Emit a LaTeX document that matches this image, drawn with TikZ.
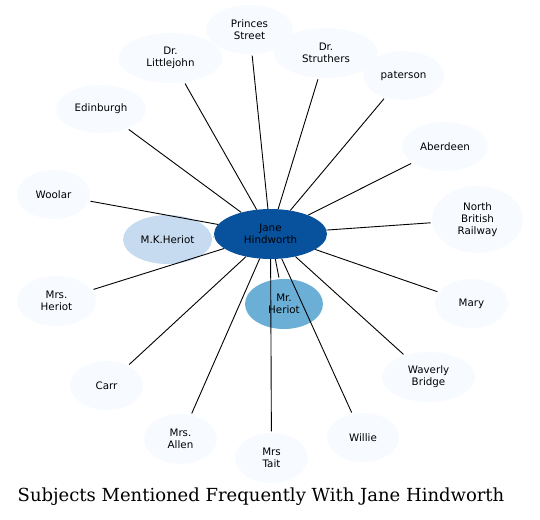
\documentclass[tikz,border=0pt]{standalone}
\usepackage{fontspec}
\setmainfont{DejaVu Sans}
\newfontfamily\titlefont{DejaVu Serif}
\usetikzlibrary{shapes.geometric}
\definecolor{bOne}{HTML}{F7FBFF}
\definecolor{bThree}{HTML}{C6DBEF}
\definecolor{bFive}{HTML}{6BAED6}
\definecolor{bEight}{HTML}{08519C}
\tikzset{
  ell/.style n args={2}{ellipse, inner sep=0pt, draw=none, fill=bOne,
    minimum width=#1pt, minimum height=#2pt, align=center,
    font=\fontsize{10.3pt}{12pt}\selectfont, text=black},
  conn/.style={draw=black, line width=0.9pt, shorten >=1.5pt},
}
\begin{document}
\begin{tikzpicture}[x=1pt,y=-1pt]
\useasboundingbox (0,0) rectangle (540,519);
\node[ell={113}{50}, fill=bEight] (jane) at (270.5,234) {Jane\\Hindworth};
\node[ell={89}{49}, fill=bThree] (mk) at (167.5,239.5) {M.K.Heriot};
\node[ell={78}{50}, fill=bFive] (mr) at (284,304) {Mr.\\Heriot};
\node[ell={87}{49}] (princes) at (249.5,29.5) {Princes\\Street};
\node[ell={104}{50}] (little) at (170.5,58) {Dr.\\Littlejohn};
\node[ell={104}{50}] (struth) at (326,53) {Dr.\\Struthers};
\node[ell={81}{49}] (pat) at (403.5,75.5) {paterson};
\node[ell={90}{48}] (edin) at (101,109) {Edinburgh};
\node[ell={86}{49}] (aber) at (445,146.5) {Aberdeen};
\node[ell={73}{49}] (woolar) at (53.5,194.5) {Woolar};
\node[ell={91}{67}] (nbr) at (477.5,219.5) {North\\British\\Railway};
\node[ell={79}{50}] (mrsh) at (56.5,301) {Mrs.\\Heriot};
\node[ell={73}{49}] (mary) at (471.5,303.5) {Mary};
\node[ell={93}{50}] (wav) at (428.5,377) {Waverly\\Bridge};
\node[ell={73}{49}] (carr) at (106.5,385.5) {Carr};
\node[ell={73}{50}] (allen) at (180.5,439) {Mrs.\\Allen};
\node[ell={73}{50}] (tait) at (271.5,458) {Mrs\\Tait};
\node[ell={72}{49}] (willie) at (363,437.5) {Willie};
\foreach \t in {mk,mr,princes,little,struth,pat,edin,aber,woolar,nbr,mrsh,mary,wav,carr,allen,tait,willie}
  \draw[conn] (jane) -- (\t);
\node[font=\titlefont\fontsize{18pt}{20pt}\selectfont, inner sep=0pt] (title) at (261,497) {Subjects Mentioned Frequently With Jane Hindworth};
\end{tikzpicture}
\end{document}
